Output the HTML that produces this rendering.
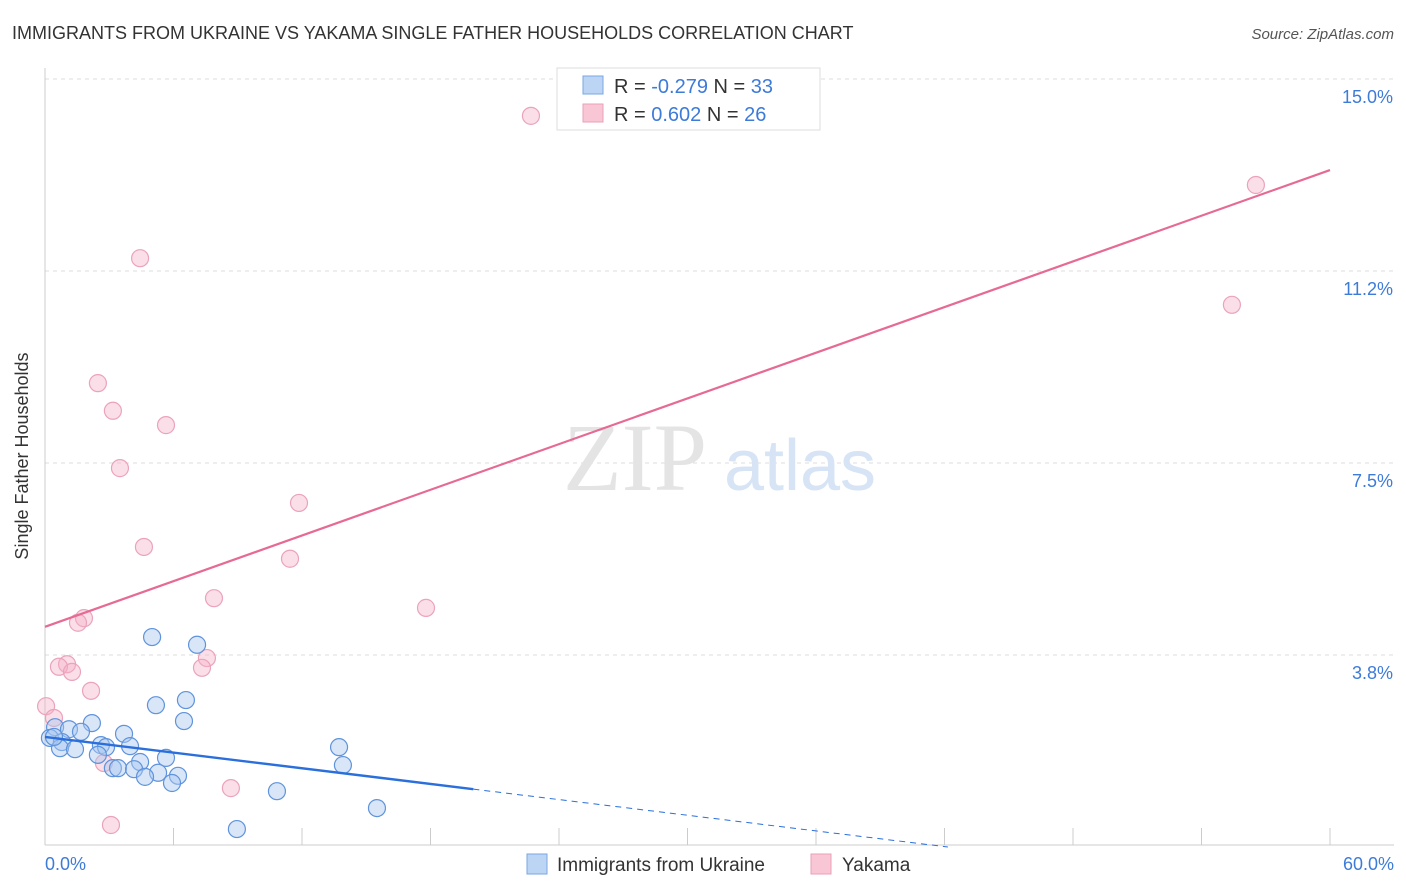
<!DOCTYPE html>
<html><head><meta charset="utf-8"><style>
body{margin:0;background:#fff;font-family:"Liberation Sans",sans-serif;}
svg{display:block}
</style></head><body>
<svg width="1406" height="892" xmlns="http://www.w3.org/2000/svg">
<text x="12" y="39" font-size="18" fill="#333">IMMIGRANTS FROM UKRAINE VS YAKAMA SINGLE FATHER HOUSEHOLDS CORRELATION CHART</text>
<text x="1394" y="39" font-size="15" fill="#555" font-style="italic" text-anchor="end">Source: ZipAtlas.com</text>
<g id="grid"></g>
<text x="635" y="490" font-size="96" fill="#e4e4e4" font-family="Liberation Serif" text-anchor="middle">ZIP</text>
<text x="800" y="490" font-size="72" fill="#d6e4f5" text-anchor="middle">atlas</text>
<line x1="45" y1="68" x2="45" y2="845" stroke="#ccc"/>
<line x1="45" y1="845" x2="1394" y2="845" stroke="#ccc"/>
<g id="marks"></g>
<text x="28" y="456" font-size="18" fill="#333" text-anchor="middle" transform="rotate(-90 28 456)">Single Father Households</text>
<text x="45" y="870" font-size="18" fill="#3d7bd9">0.0%</text>
<text x="1394" y="870" font-size="18" fill="#3d7bd9" text-anchor="end">60.0%</text>
<g>
<rect x="557" y="68" width="263" height="62" fill="#fff" stroke="#ddd"/>
<rect x="583" y="76" width="20" height="18" fill="#bcd5f5" stroke="#7aa6e3"/>
<rect x="583" y="104" width="20" height="18" fill="#f9c6d5" stroke="#eaa0b8"/>
<text x="614" y="93" font-size="20" fill="#333">R = <tspan fill="#3d7bd9">-0.279</tspan>   N = <tspan fill="#3d7bd9">33</tspan></text>
<text x="614" y="121" font-size="20" fill="#333">R =  <tspan fill="#3d7bd9"> 0.602</tspan>   N = <tspan fill="#3d7bd9">26</tspan></text>
</g>
<g>
<rect x="527" y="854" width="20" height="20" fill="#bcd5f5" stroke="#7aa6e3"/>
<text x="557" y="871" font-size="19" fill="#333">Immigrants from Ukraine</text>
<rect x="811" y="854" width="20" height="20" fill="#f9c6d5" stroke="#eaa0b8"/>
<text x="842" y="871" font-size="19" fill="#333">Yakama</text>
</g>
</svg>
<script>
const yTicks=[3.75,7.5,11.25,15];
const yTickLabels=["3.8%","7.5%","11.2%","15.0%"];
const xTicks=[0,6,12,18,24,30,36,42,48,54,60];
const ukraineX=[5.0,7.1,5.18,6.58,6.49,2.19,0.47,1.12,1.68,3.69,0.23,0.79,2.61,2.85,3.97,0.70,1.40,2.47,5.65,13.73,13.91,4.44,3.17,3.41,4.16,5.28,4.67,6.21,5.93,10.83,15.5,8.96,0.42];
const ukraineY=[4.10,3.95,2.77,2.87,2.46,2.42,2.34,2.30,2.25,2.21,2.13,2.05,1.99,1.95,1.97,1.93,1.91,1.80,1.74,1.95,1.60,1.66,1.54,1.54,1.52,1.45,1.37,1.39,1.25,1.09,0.76,0.35,2.15];
const yakamaX=[22.69,56.54,4.44,55.42,2.47,3.17,5.65,3.50,11.86,4.62,11.44,7.89,17.79,1.82,1.54,7.56,7.33,1.03,0.65,1.26,2.15,0.05,0.42,2.75,8.68,3.08];
const yakamaY=[14.28,12.93,11.50,10.59,9.06,8.52,8.24,7.40,6.72,5.86,5.63,4.86,4.67,4.47,4.38,3.69,3.50,3.57,3.52,3.42,3.05,2.75,2.52,1.64,1.15,0.43];
const ukraineTrend=[2.15,-0.051];
const yakamaTrend=[4.30,0.1487];
const NS="http://www.w3.org/2000/svg";
const X=v=>45+v/60*1285;
const Y=v=>847-v*51.2;
function mk(tag,attrs,parent){const e=document.createElementNS(NS,tag);for(const k in attrs)e.setAttribute(k,attrs[k]);parent.appendChild(e);return e;}
const grid=document.getElementById('grid');
yTicks.forEach((t,i)=>{
 const l=mk('line',{x1:45,x2:1394,y1:Y(t),y2:Y(t),stroke:'#ddd','stroke-dasharray':'4,4'},grid);
 
 
 const tx=mk('text',{x:1393,y:Y(t)+24,'font-size':18,fill:'#3d7bd9','text-anchor':'end'},grid);
 tx.textContent=yTickLabels[i];
 
 
});
xTicks.forEach(t=>{
 const l=mk('line',{x1:X(t),x2:X(t),y1:828,y2:845,stroke:'#ccc'},grid);
 
 
});
const g=document.getElementById('marks');
yakamaX.forEach((x,i)=>{
 const c=mk('circle',{cx:X(x),cy:Y(yakamaY[i]),r:8.5,fill:'rgba(245,175,198,0.4)',stroke:'#eba3ba','stroke-width':1.2},g);
 
 
});
ukraineX.forEach((x,i)=>{
 const c=mk('circle',{cx:X(x),cy:Y(ukraineY[i]),r:8.5,fill:'rgba(168,200,240,0.45)',stroke:'#5f93dc','stroke-width':1.2},g);
 
 
});
const pl=mk('line',{x1:X(0),y1:Y(yakamaTrend[0]),x2:X(60),y2:Y(yakamaTrend[0]+yakamaTrend[1]*60),stroke:'#e66a93','stroke-width':2.2},g);


const xs=20, xe=-ukraineTrend[0]/ukraineTrend[1];
const bl=mk('line',{x1:X(0),y1:Y(ukraineTrend[0]),x2:X(xs),y2:Y(ukraineTrend[0]+ukraineTrend[1]*xs),stroke:'#2a6fdb','stroke-width':2.4},g);


const bd=mk('line',{x1:X(xs),y1:Y(ukraineTrend[0]+ukraineTrend[1]*xs),x2:X(xe),y2:Y(0),stroke:'#2a6fdb','stroke-width':1,'stroke-dasharray':'6,5'},g);


</script>
</body></html>
